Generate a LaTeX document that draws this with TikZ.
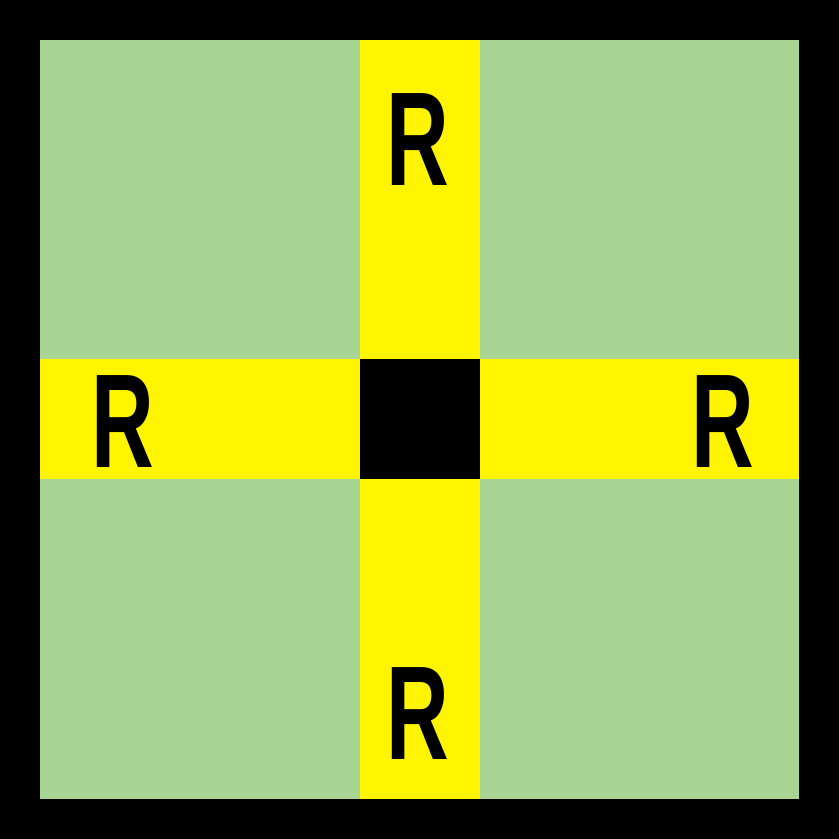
\documentclass[tikz,border=0pt]{standalone}
\usepackage{fontspec}
\setmainfont{Liberation Sans}
\definecolor{field}{HTML}{A8D494}
\definecolor{road}{HTML}{FFF500}
\tikzset{
  every picture/.style={x=0.01cm,y=-0.01cm},
  letter/.style={inner sep=0pt, font=\bfseries\fontsize{38}{38}\selectfont},
}
\newcommand{\narrowR}{\scalebox{0.65}[1]{R}}

\begin{document}
\begin{tikzpicture}
\useasboundingbox (0,0) rectangle (839,839);
\fill[black] (0,0) rectangle (839,839);
\fill[field] (40,40) rectangle (799,799);
\fill[road] (360,40) rectangle (480,799);
\fill[road] (40,359) rectangle (799,479);
\fill[black] (360,359) rectangle (480,479);
\node[letter] (rtop) at (418,140) {\narrowR};
\node[letter] (rleft) at (123,422) {\narrowR};
\node[letter] (rright) at (723,422) {\narrowR};
\node[letter] (rbottom) at (418,714) {\narrowR};
\end{tikzpicture}
\end{document}
